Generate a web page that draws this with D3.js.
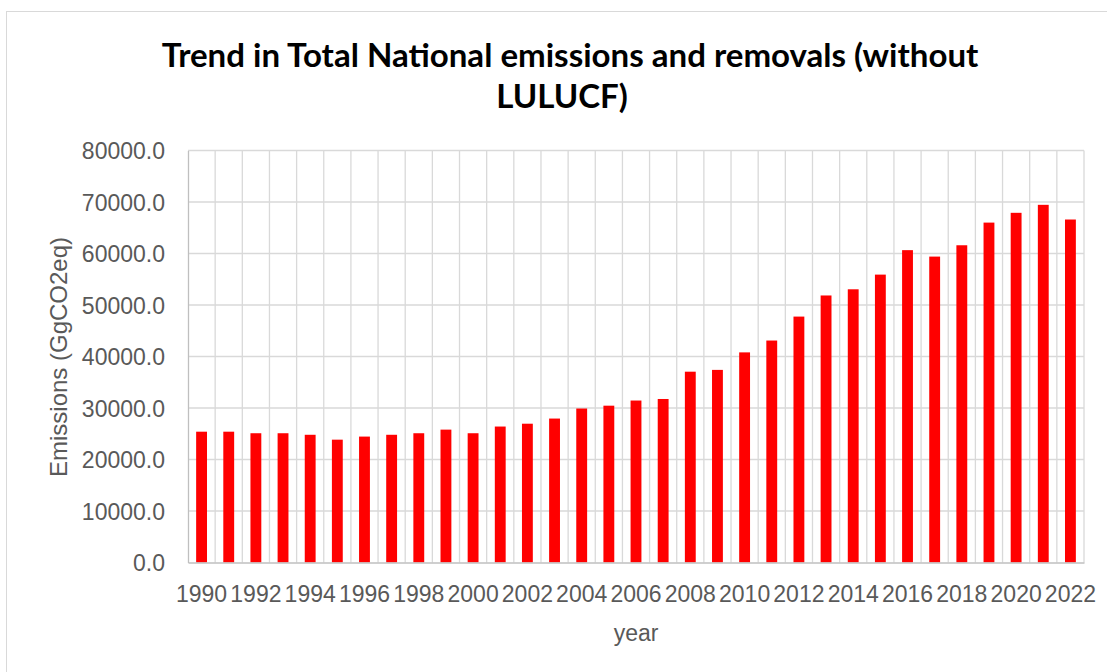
<!DOCTYPE html>
<html>
<head>
<meta charset="utf-8">
<script src="https://cdn.jsdelivr.net/npm/d3@7"></script>
<style>
  body { margin: 0; background: #fff; }
  svg { display: block; }
  .tick-label { font-family: "Liberation Sans", Arial, sans-serif; font-size: 23px; fill: #595959; }
</style>
</head>
<body>
<svg id="chart" width="1107" height="672"></svg>
<script>
/************
** data
*************/
var years = ["1990","1991","1992","1993","1994","1995","1996","1997","1998","1999",
             "2000","2001","2002","2003","2004","2005","2006","2007","2008","2009",
             "2010","2011","2012","2013","2014","2015","2016","2017","2018","2019",
             "2020","2021","2022"];
var emissions = [25400, 25400, 25100, 25100, 24800, 23850, 24450, 24800, 25100, 25800,
                 25100, 26400, 26950, 27950, 29900, 30450, 31450, 31750, 37050, 37400,
                 40800, 43100, 47750, 51850, 53050, 55900, 60650, 59400, 61600, 66000,
                 67900, 69450, 66600];
var yTicks = [0, 10000, 20000, 30000, 40000, 50000, 60000, 70000, 80000];
var xLabelYears = ["1990","1992","1994","1996","1998","2000","2002","2004","2006","2008",
                   "2010","2012","2014","2016","2018","2020","2022"];

/************
** colors
*************/
var barColor = "#ff0000";
var gridColor = "#d9d9d9";
var axisColor = "#bfbfbf";
var labelColor = "#595959";

/************
** layout
*************/
var plot = { left: 188, right: 1084, top: 150.5, bottom: 562.5 };

var svg = d3.select("#chart");

// outer chart border
svg.append("rect")
    .attr("x", 6.5).attr("y", 11.5)
    .attr("width", 1120).attr("height", 700)
    .attr("fill", "#fff")
    .attr("stroke", gridColor)
    .attr("stroke-width", 1);

var x = d3.scaleBand()
    .domain(years)
    .range([plot.left, plot.right])
    .paddingInner(0)
    .paddingOuter(0);

var y = d3.scaleLinear()
    .domain([0, 80000])
    .range([plot.bottom, plot.top]);

/************
** gridlines
*************/
var grid = svg.append("g");
grid.selectAll("line.h").data(yTicks.slice(1)).enter().append("line")
    .attr("class", "h")
    .attr("x1", plot.left).attr("x2", plot.right)
    .attr("y1", function(d){ return y(d); })
    .attr("y2", function(d){ return y(d); })
    .attr("stroke", gridColor).attr("stroke-width", 1.3);

// vertical gridlines at every category boundary
grid.selectAll("line.v").data(years.slice(1).concat(["end"])).enter().append("line")
    .attr("class", "v")
    .attr("x1", function(d){ return d === "end" ? plot.right : x(d); })
    .attr("x2", function(d){ return d === "end" ? plot.right : x(d); })
    .attr("y1", plot.top).attr("y2", plot.bottom)
    .attr("stroke", gridColor).attr("stroke-width", 1.3);

/************
** bars
*************/
var barW = x.bandwidth() * 0.4;
svg.append("g").selectAll("rect").data(emissions).enter().append("rect")
    .attr("x", function(d, i){ return x(years[i]) + (x.bandwidth() - barW) / 2; })
    .attr("y", function(d){ return y(d); })
    .attr("width", barW)
    .attr("height", function(d){ return y(0) - y(d); })
    .attr("fill", barColor);

/************
** axes
*************/
var yAxis = d3.axisLeft(y).tickValues(yTicks).tickSize(0).tickPadding(23)
    .tickFormat(d3.format(".1f"));
var gy = svg.append("g").attr("transform", "translate(" + plot.left + ",0)").call(yAxis);
gy.select(".domain").attr("stroke", axisColor).attr("stroke-width", 1.3);
gy.selectAll("text").attr("class", "tick-label").attr("dy", "0.36em");

var xAxis = d3.axisBottom(x).tickValues(xLabelYears).tickSize(0).tickPadding(23);
var gx = svg.append("g").attr("transform", "translate(0," + plot.bottom + ")").call(xAxis);
gx.select(".domain").attr("stroke", axisColor).attr("stroke-width", 1.3);
gx.selectAll("text").attr("class", "tick-label").attr("dy", "0.71em");

/************
** titles
*************/
var titleLines = ["Trend in Total National emissions and removals (without", "LULUCF)"];
var title = svg.append("g");
var t1 = title.append("text")
    .attr("x", 570).attr("y", 67)
    .attr("text-anchor", "middle")
    .style("font-family", "Lato, 'Open Sans', sans-serif")
    .style("font-weight", "bold")
    .style("font-size", "28px")
    .attr("fill", "#000")
    .text(titleLines[0]);
// fit the first line to the target width
var w = t1.node().getComputedTextLength();
var fs = 28 * 817 / w;
t1.style("font-size", fs + "px");
title.append("text")
    .attr("x", 562).attr("y", 108)
    .attr("text-anchor", "middle")
    .style("font-family", "Lato, 'Open Sans', sans-serif")
    .style("font-weight", "bold")
    .style("font-size", fs + "px")
    .attr("fill", "#000")
    .text(titleLines[1]);

svg.append("text")
    .attr("transform", "translate(67,357) rotate(-90)")
    .attr("text-anchor", "middle")
    .style("font-family", "'Liberation Sans', Arial, sans-serif")
    .style("font-size", "24px")
    .attr("fill", labelColor)
    .text("Emissions (GgCO2eq)");

svg.append("text")
    .attr("x", 636).attr("y", 641)
    .attr("text-anchor", "middle")
    .style("font-family", "'Liberation Sans', Arial, sans-serif")
    .style("font-size", "23px")
    .attr("fill", labelColor)
    .text("year");
</script>
</body>
</html>
